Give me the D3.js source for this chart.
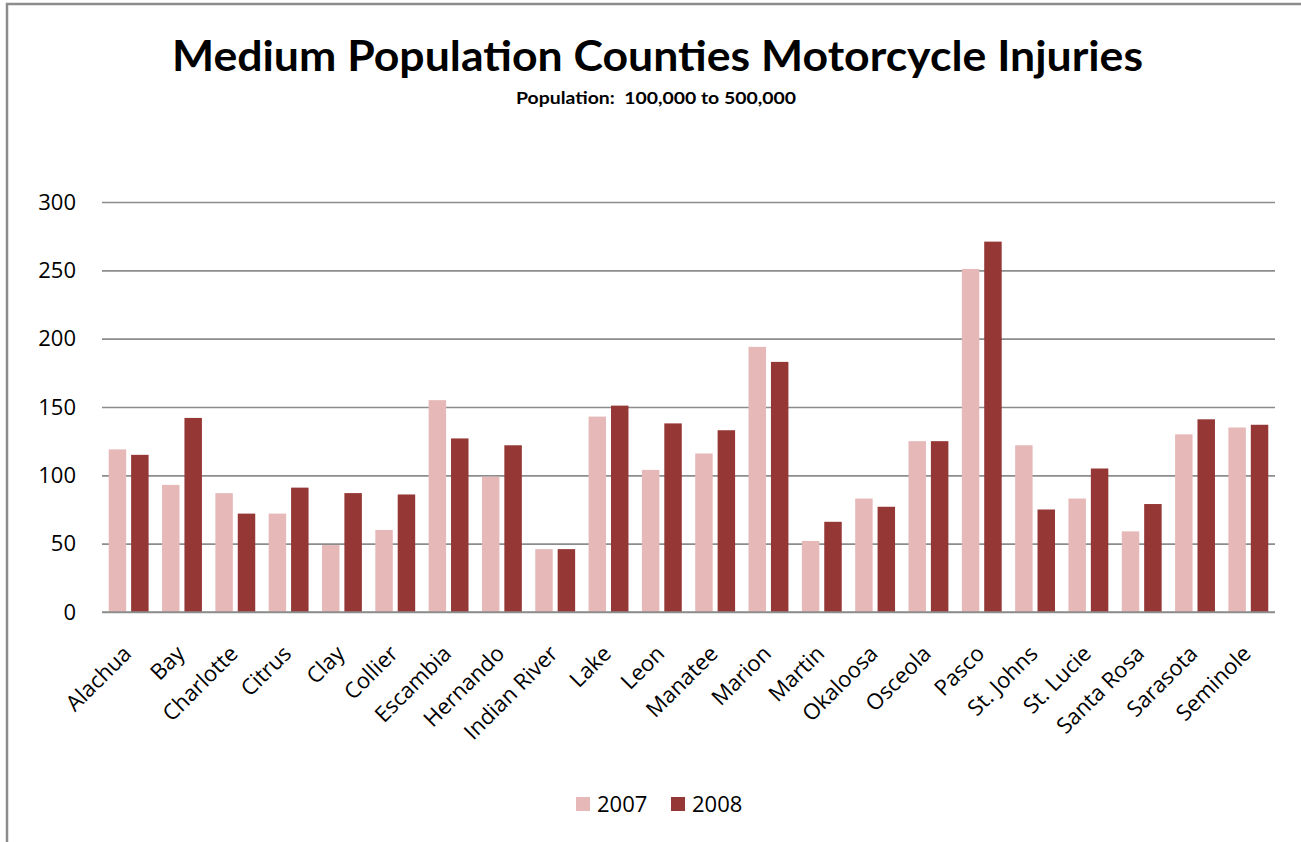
<!DOCTYPE html>
<html><head><meta charset="utf-8">
<script src="https://cdn.jsdelivr.net/npm/d3@7"></script>
<style>body{margin:0;background:#fff;} svg{display:block;}</style>
</head><body>
<svg id="chart" width="1301" height="842"></svg>
<script>
const categories = ["Alachua","Bay","Charlotte","Citrus","Clay","Collier","Escambia","Hernando","Indian River","Lake","Leon","Manatee","Marion","Martin","Okaloosa","Osceola","Pasco","St. Johns","St. Lucie","Santa Rosa","Sarasota","Seminole"];
const series = ["2007","2008"];
const values2007 = [119,93,87,72,49,60,155,99,46,143,104,116,194,52,83,125,251,122,83,59,130,135];
const values2008 = [115,142,72,91,87,86,127,122,46,151,138,133,183,66,77,125,271,75,105,79,141,137];
const yTicks = [0,50,100,150,200,250,300];
const colors = ["#E6B9B8","#953735"];

const svg = d3.select("#chart");
const m = {left:102, right:1275, top:202, bottom:612};
const labelFont = "'Open Sans', sans-serif";

// frame
svg.append("path").attr("d","M7,842 V4 H1301").attr("fill","none").attr("stroke","#8c8c8c").attr("stroke-width",2.5);

svg.append("text").attr("x",172).attr("y",71)
  .attr("font-family","Lato, sans-serif").attr("font-weight","bold").attr("font-size",42)
  .attr("textLength",971).attr("lengthAdjust","spacingAndGlyphs")
  .text("Medium Population Counties Motorcycle Injuries");
svg.append("text").attr("x",516).attr("y",104)
  .attr("font-family","Lato, sans-serif").attr("font-weight","bold").attr("font-size",17)
  .attr("textLength",280).attr("lengthAdjust","spacingAndGlyphs")
  .attr("xml:space","preserve")
  .text("Population:  100,000 to 500,000");

const y = d3.scaleLinear().domain([0,300]).range([m.bottom,m.top]);
const x0 = d3.scaleBand().domain(categories).range([m.left,m.right]).padding(0);
const x1 = d3.scaleBand().domain(series).range([0,x0.bandwidth()]).paddingInner(0.22).paddingOuter(0.3);

// gridlines
const yAxis = d3.axisLeft(y).tickValues(yTicks).tickSize(-(m.right-m.left)).tickPadding(26);
const gy = svg.append("g").attr("transform",`translate(${m.left},0)`).call(yAxis);
gy.select(".domain").remove();
gy.selectAll(".tick line").attr("stroke","#8c8c8c").attr("stroke-width",1.6);
gy.selectAll(".tick text").attr("font-family",labelFont).attr("font-size",22).attr("fill","#000");

const data = categories.map((c,i)=>({c, v:[values2007[i],values2008[i]]}));
const groups = svg.append("g").selectAll("g").data(data).join("g")
  .attr("transform",d=>`translate(${x0(d.c)},0)`);
groups.selectAll("rect").data(d=>series.map((s,j)=>({s,v:d.v[j],j}))).join("rect")
  .attr("x",d=>x1(d.s)).attr("width",x1.bandwidth())
  .attr("y",d=>y(d.v)).attr("height",d=>y(0)-y(d.v))
  .attr("fill",d=>colors[d.j]);

// baseline
svg.append("line").attr("x1",m.left).attr("x2",m.right).attr("y1",y(0)).attr("y2",y(0)).attr("stroke","#8c8c8c").attr("stroke-width",1.6);

// x labels
const xAxis = d3.axisBottom(x0).tickSize(0).tickPadding(0);
const gx = svg.append("g").attr("transform",`translate(0,${m.bottom})`).call(xAxis);
gx.select(".domain").remove();
gx.selectAll(".tick text").attr("font-family",labelFont).attr("font-size",22).attr("fill","#000")
  .attr("text-anchor","end").attr("dy",null).attr("y",0)
  .attr("transform","translate(4,43) rotate(-45)");

// legend
const lg = svg.append("g").attr("transform","translate(576,797)");
const li = lg.selectAll("g").data(series).join("g").attr("transform",(d,i)=>`translate(${i*95},0)`);
li.append("rect").attr("width",14).attr("height",14).attr("fill",(d,i)=>colors[i]);
li.append("text").attr("x",21).attr("y",15).attr("font-family",labelFont).attr("font-size",22).text(d=>d);
</script>
</body></html>
